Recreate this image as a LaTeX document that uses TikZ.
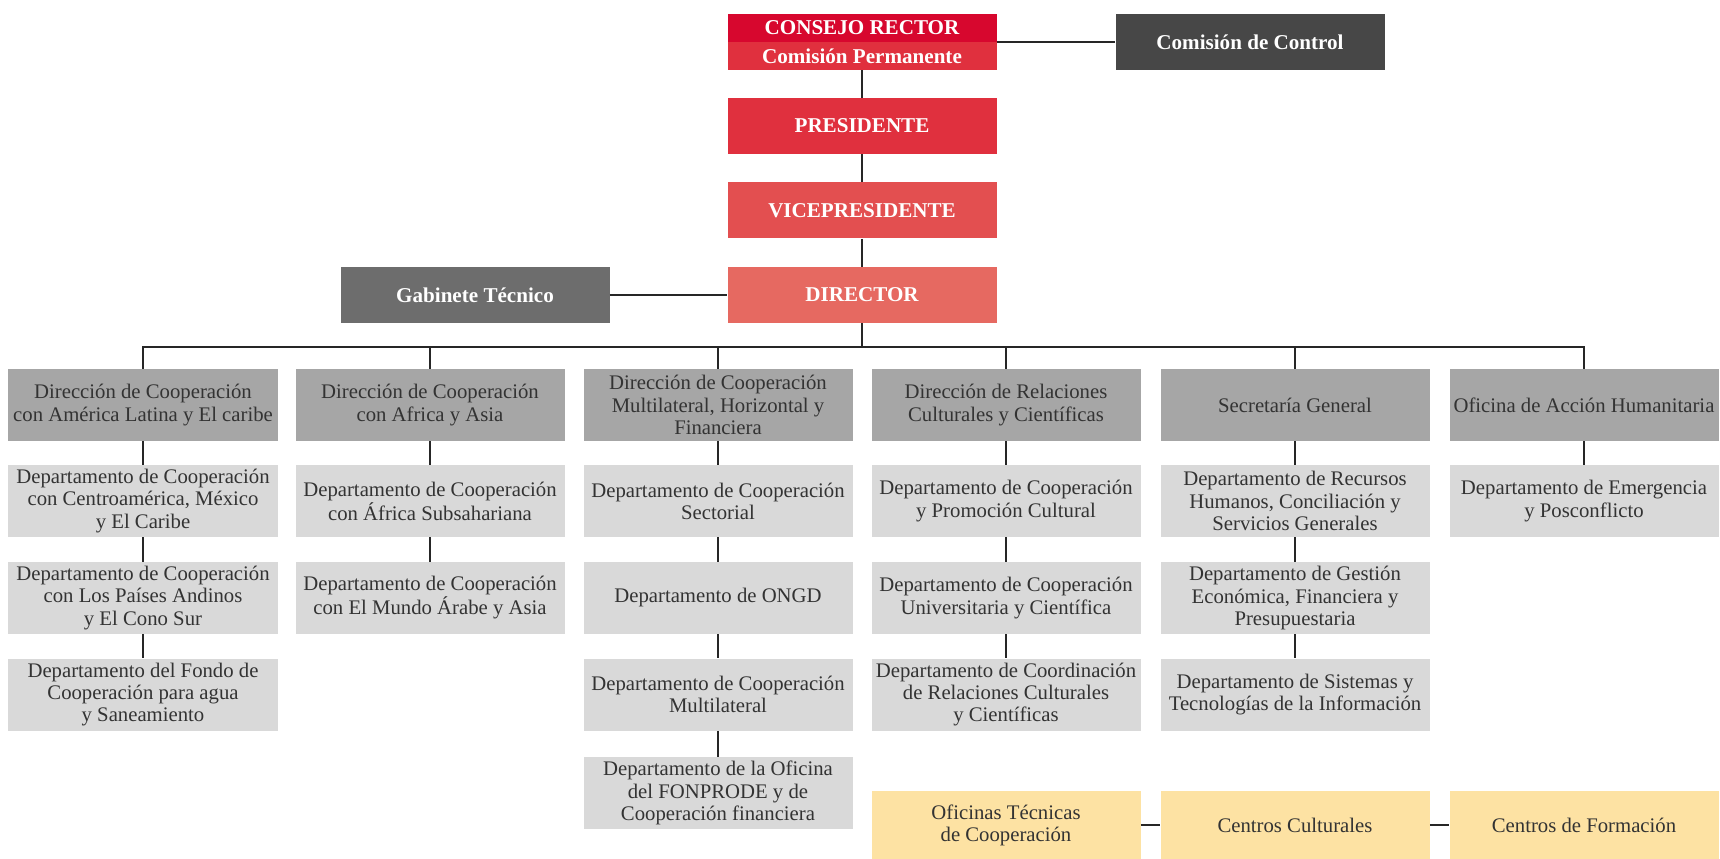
\documentclass[tikz,border=0pt]{standalone}
\usepackage{fontspec}
\setmainfont{Liberation Serif}

\definecolor{rojoConsejo}{HTML}{D7072E}
\definecolor{rojoPres}{HTML}{E0303E}
\definecolor{rojoVice}{HTML}{E34F50}
\definecolor{rojoDir}{HTML}{E66961}
\definecolor{grisControl}{HTML}{474747}
\definecolor{grisGabinete}{HTML}{6D6D6D}
\definecolor{grisDireccion}{HTML}{A6A6A6}
\definecolor{grisDepto}{HTML}{D9D9D9}
\definecolor{amarilloOfi}{HTML}{FDE2A3}
\definecolor{textoGris}{HTML}{333333}

\tikzset{
  cargo/.style={minimum width=5.38cm, minimum height=1.12cm, inner sep=1pt,
    text=white, align=center, font=\fontsize{12}{13}\selectfont\bfseries},
  direccion/.style={minimum width=5.38cm, minimum height=1.44cm,
    inner xsep=0.5pt, inner ysep=1pt,
    fill=grisDireccion, text=textoGris, align=center,
    font=\fontsize{11.8}{12.6}\selectfont},
  depto/.style={direccion, fill=grisDepto},
  exterior/.style={direccion, fill=amarilloOfi, minimum height=1.36cm},
  enlace/.style={line width=0.8pt, draw=black!85}
}

\begin{document}
\begin{tikzpicture}
            \fill[white] (0, 0) rectangle (34.4, -17.18);
            % organos de gobierno
            \node[cargo, fill=rojoConsejo, minimum height=0.56cm] (consejo) at (17.24, -0.56) {CONSEJO RECTOR};
            \node[cargo, fill=rojoPres, minimum height=0.56cm] (permanente) at (17.24, -1.12) {Comisión Permanente};
            \node[cargo, fill=grisControl] (control) at (25.00, -0.84) {Comisión de Control};
            \node[cargo, fill=rojoPres] (presidente) at (17.24, -2.52) {PRESIDENTE};
            \node[cargo, fill=rojoVice] (vice) at (17.24, -4.21) {VICEPRESIDENTE};
            \node[cargo, fill=rojoDir] (director) at (17.24, -5.90) {DIRECTOR};
            \node[cargo, fill=grisGabinete] (gabinete) at (9.50, -5.90) {Gabinete Técnico};
            \draw[enlace] (control.west) -- (control.west -| consejo.east);
            \draw[enlace] (permanente) -- (presidente) -- (vice) -- (director);
            \draw[enlace] (gabinete) -- (director);
            \coordinate (bus) at (17.24, -6.94);
            \draw[enlace] (director) -- (bus);
            % direcciones
            \node[direccion] (dir1) at (2.86, -8.10) {Dirección de Cooperación\\con América Latina y El caribe};
            \node[direccion] (dir2) at (8.60, -8.10) {Dirección de Cooperación\\con Africa y Asia};
            \node[direccion] (dir3) at (14.36, -8.10) {Dirección de Cooperación\\Multilateral, Horizontal y\\Financiera};
            \node[direccion] (dir4) at (20.12, -8.10) {Dirección de Relaciones\\Culturales y Científicas};
            \node[direccion] (dir5) at (25.90, -8.10) {Secretaría General};
            \node[direccion] (dir6) at (31.68, -8.10) {Oficina de Acción Humanitaria};
            \draw[enlace] (dir1.north) |- (bus);
            \draw[enlace] (dir2.north) |- (bus);
            \draw[enlace] (dir3.north) |- (bus);
            \draw[enlace] (dir4.north) |- (bus);
            \draw[enlace] (dir5.north) |- (bus);
            \draw[enlace] (dir6.north) |- (bus);
            % departamentos
            \node[depto] (dep11) at (2.86, -10.02) {Departamento de Cooperación\\con Centroamérica, México\\y El Caribe};
            \node[depto] (dep12) at (2.86, -11.96) {Departamento de Cooperación\\con Los Países Andinos\\y El Cono Sur};
            \node[depto] (dep13) at (2.86, -13.89) {Departamento del Fondo de\\Cooperación para agua\\y Saneamiento};
            \node[depto] (dep21) at (8.60, -10.02) {Departamento de Cooperación\\con África Subsahariana};
            \node[depto] (dep22) at (8.60, -11.96) {Departamento de Cooperación\\con El Mundo Árabe y Asia};
            \node[depto] (dep31) at (14.36, -10.02) {Departamento de Cooperación\\Sectorial};
            \node[depto] (dep32) at (14.36, -11.96) {Departamento de ONGD};
            \node[depto] (dep33) at (14.36, -13.89) {Departamento de Cooperación\\Multilateral};
            \node[depto] (dep34) at (14.36, -15.86) {Departamento de la Oficina\\del FONPRODE y de\\Cooperación financiera};
            \node[depto] (dep41) at (20.12, -10.02) {Departamento de Cooperación\\y Promoción Cultural};
            \node[depto] (dep42) at (20.12, -11.96) {Departamento de Cooperación\\Universitaria y Científica};
            \node[depto] (dep43) at (20.12, -13.89) {Departamento de Coordinación\\de Relaciones Culturales\\y Científicas};
            \node[depto] (dep51) at (25.90, -10.02) {Departamento de Recursos\\Humanos, Conciliación y\\Servicios Generales};
            \node[depto] (dep52) at (25.90, -11.96) {Departamento de Gestión\\Económica, Financiera y\\Presupuestaria};
            \node[depto] (dep53) at (25.90, -13.89) {Departamento de Sistemas y\\Tecnologías de la Información};
            \node[depto] (dep61) at (31.68, -10.02) {Departamento de Emergencia\\y Posconflicto};
            \draw[enlace] (dir1) -- (dep11) -- (dep12) -- (dep13);
            \draw[enlace] (dir2) -- (dep21) -- (dep22);
            \draw[enlace] (dir3) -- (dep31) -- (dep32) -- (dep33) -- (dep34);
            \draw[enlace] (dir4) -- (dep41) -- (dep42) -- (dep43);
            \draw[enlace] (dir5) -- (dep51) -- (dep52) -- (dep53);
            \draw[enlace] (dir6) -- (dep61);
            % red exterior
            \node[exterior] (oficinas) at (20.12, -16.50) {Oficinas Técnicas\\de Cooperación};
            \node[exterior] (centros) at (25.90, -16.50) {Centros Culturales};
            \node[exterior] (formacion) at (31.68, -16.50) {Centros de Formación};
            \draw[enlace] (oficinas) -- (centros) -- (formacion);
\end{tikzpicture}
\end{document}
